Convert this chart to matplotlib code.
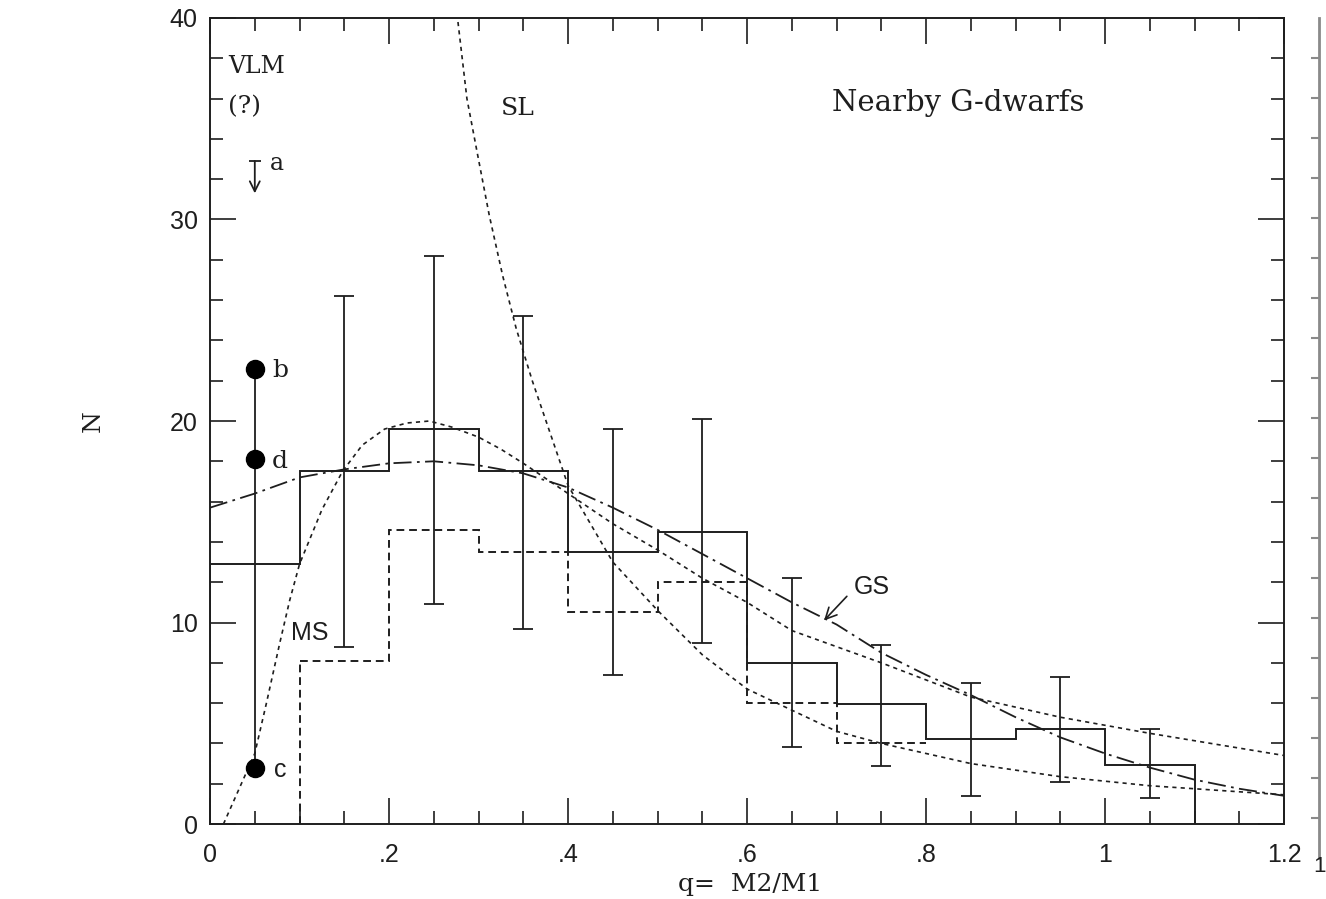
import matplotlib

matplotlib.use("Agg")
import matplotlib.pyplot as plt
import numpy as np
from matplotlib.ticker import FixedFormatter, FixedLocator, MultipleLocator

# observed histogram (solid), 0.1-wide bins
bin_edges = [0.0, 0.1, 0.2, 0.3, 0.4, 0.5, 0.6, 0.7, 0.8, 0.9, 1.0, 1.1]
counts = [12.9, 17.5, 19.6, 17.5, 13.5, 14.5, 8.0, 5.95, 4.2, 4.7, 2.95]

# error bars at bin centres (from 0.15 on)
err_q = [0.15, 0.25, 0.35, 0.45, 0.55, 0.65, 0.75, 0.85, 0.95, 1.05]
err_top = [26.2, 28.2, 25.2, 19.6, 20.1, 12.2, 8.9, 7.0, 7.3, 4.7]
err_bottom = [8.8, 10.9, 9.7, 7.4, 9.0, 3.8, 2.9, 1.4, 2.1, 1.3]

# second (dashed) histogram
dashed_edges = [0.1, 0.2, 0.3, 0.4, 0.5, 0.6, 0.7, 0.8]
dashed_counts = [8.1, 14.6, 13.5, 10.5, 12.0, 6.0, 4.0]

# MS curve (dotted)
ms_q = [0.015, 0.033, 0.05, 0.063, 0.078, 0.089, 0.10, 0.125, 0.148, 0.17, 0.195,
        0.22, 0.245, 0.27, 0.30, 0.325, 0.35, 0.40, 0.45, 0.50, 0.55, 0.60, 0.65,
        0.70, 0.75, 0.85, 0.95, 1.00, 1.05, 1.20]
ms_n = [0.0, 1.8, 3.5, 6.0, 9.0, 11.1, 12.9, 15.6, 17.5, 18.8, 19.6,
        19.9, 20.0, 19.7, 19.2, 18.6, 17.9, 16.4, 14.9, 13.6, 12.2, 11.0, 9.6,
        8.8, 8.0, 6.3, 5.3, 4.9, 4.5, 3.4]

# SL curve (dotted)
sl_q = [0.277, 0.287, 0.299, 0.312, 0.327, 0.342, 0.36, 0.38, 0.40, 0.45, 0.50,
        0.55, 0.60, 0.70, 0.75, 0.85, 0.95, 1.05, 1.20]
sl_n = [39.8, 36.0, 33.2, 30.2, 27.2, 24.6, 22.0, 19.4, 16.8, 13.0, 10.6,
        8.4, 6.7, 4.6, 4.0, 3.0, 2.35, 1.9, 1.45]

# GS curve (dash-dot)
gs_q = [0.0, 0.05, 0.10, 0.15, 0.20, 0.25, 0.30, 0.35, 0.40, 0.45, 0.50, 0.55,
        0.60, 0.65, 0.70, 0.75, 0.80, 0.85, 0.90, 0.95, 1.00, 1.05, 1.10, 1.15, 1.20]
gs_n = [15.7, 16.4, 17.2, 17.6, 17.9, 18.0, 17.8, 17.4, 16.7, 15.7, 14.6, 13.4,
        12.2, 11.0, 9.9, 8.5, 7.4, 6.4, 5.3, 4.3, 3.5, 2.8, 2.2, 1.75, 1.4]

# VLM points at q = 0.05
vlm_q = 0.05
vlm_points = {"b": 22.6, "d": 18.1, "c": 2.8}
limit_a = (32.9, 31.3)

x_ticks = [0, 0.2, 0.4, 0.6, 0.8, 1.0, 1.2]
x_tick_labels = ["0", ".2", ".4", ".6", ".8", "1", "1.2"]
y_ticks = [0, 10, 20, 30, 40]

ink = "#1e1e1e"
serif = "DejaVu Serif"
sans = "Liberation Sans"

figure = plt.figure(figsize=(13.26, 8.99), dpi=100)
axis = figure.add_axes([0.1584, 0.0834, 0.8100, 0.8966])

axis.stairs(counts, bin_edges, color=ink, linewidth=1.4, baseline=0)
axis.stairs(dashed_counts, dashed_edges, color=ink, linewidth=1.4, baseline=None,
            linestyle=(0, (4, 2.5)))
axis.vlines(dashed_edges[0], 0, dashed_counts[0], color=ink, linewidth=1.4,
            linestyle=(0, (4, 2.5)))

centre = np.array(counts[1:])
yerr = [centre - np.array(err_bottom), np.array(err_top) - centre]
axis.errorbar(err_q, centre, yerr=yerr, fmt="none", ecolor=ink, elinewidth=1.3,
              capsize=7, capthick=1.3)

axis.plot(ms_q, ms_n, color=ink, linewidth=1.2, linestyle=(0, (2.5, 2.5)))
axis.plot(sl_q, sl_n, color=ink, linewidth=1.2, linestyle=(0, (2.5, 2.5)))
axis.plot(gs_q, gs_n, color=ink, linewidth=1.3, linestyle=(0, (10, 3, 1.5, 3)))

vals = list(vlm_points.values())
axis.plot([vlm_q, vlm_q], [min(vals), max(vals)], color=ink, linewidth=1.3)
axis.plot([vlm_q] * len(vals), vals, "o", color="black", markersize=13)
axis.plot([vlm_q], [limit_a[0]], marker="_", color=ink, markersize=9, mew=1.3)
axis.annotate("", xy=(vlm_q, limit_a[1]), xytext=(vlm_q, limit_a[0]),
              arrowprops=dict(arrowstyle="->", color=ink, lw=1.3, shrinkA=0, shrinkB=0,
                              mutation_scale=18))

for name, n in vlm_points.items():
    axis.text(0.078, n - 0.1, name, family=serif if name != "c" else sans,
              fontsize=18, color=ink, ha="center", va="center")
axis.text(0.075, 32.8, "a", family=serif, fontsize=17, color=ink, ha="center", va="center")
axis.text(0.020, 37.6, "VLM", family=serif, fontsize=17, color=ink, va="center")
axis.text(0.020, 35.6, "(?)", family=serif, fontsize=18, color=ink, va="center")
axis.text(0.3435, 35.5, "SL", family=serif, fontsize=18, color=ink, ha="center", va="center")
axis.text(0.695, 35.8, "Nearby G-dwarfs", family=serif, fontsize=21, color=ink, va="center")
axis.text(0.1115, 9.5, "MS", family=sans, fontsize=18, color=ink, ha="center", va="center")
axis.text(0.739, 11.76, "GS", family=sans, fontsize=18, color=ink, ha="center", va="center")
axis.annotate("", xy=(0.686, 10.1), xytext=(0.7115, 11.3),
              arrowprops=dict(arrowstyle="->", color=ink, lw=1.2, shrinkA=0, shrinkB=0,
                              mutation_scale=20))

axis.set_xlim(0, 1.2)
axis.set_ylim(0, 40)
axis.xaxis.set_major_locator(FixedLocator(x_ticks))
axis.xaxis.set_major_formatter(FixedFormatter(x_tick_labels))
axis.xaxis.set_minor_locator(MultipleLocator(0.05))
axis.yaxis.set_major_locator(FixedLocator(y_ticks))
axis.yaxis.set_minor_locator(MultipleLocator(2))
axis.tick_params(which="both", direction="in", top=True, right=True, color=ink, width=1.2)
axis.tick_params(which="major", length=19)
axis.tick_params(which="minor", length=9.5)
axis.tick_params(axis="x", which="major", pad=14, labelsize=18, labelcolor=ink)
axis.tick_params(axis="y", which="major", pad=9, labelsize=18, labelcolor=ink)
for label in axis.get_xticklabels() + axis.get_yticklabels():
    label.set_family(sans)
for spine in axis.spines.values():
    spine.set_color(ink)
    spine.set_linewidth(1.4)

axis.set_xlabel("q=  M2/M1", family=serif, fontsize=18, color=ink)
axis.xaxis.set_label_coords(0.503, -0.061)
axis.set_ylabel("N", family=serif, fontsize=18, color=ink)
axis.yaxis.set_label_coords(-0.0978, 0.5)

# scanned edge of the neighbouring page on the right
edge = figure.add_axes([0.985, 0.046, 0.01, 0.934])
edge.set_ylim(0, 21)
edge.set_xticks([])
edge.yaxis.tick_right()
edge.set_yticks(range(1, 21))
edge.set_yticklabels([])
edge.tick_params(axis="y", direction="in", length=6, width=1.5, color="#8a8a8a")
for side in ("left", "top", "bottom"):
    edge.spines[side].set_visible(False)
edge.spines["right"].set_color("#8a8a8a")
edge.spines["right"].set_linewidth(2)
edge.patch.set_alpha(0)
figure.text(0.995, 0.036, "1", family=sans, fontsize=16, color=ink, ha="center", va="center")

figure.savefig("out.png", dpi=100)
plt.close(figure)
